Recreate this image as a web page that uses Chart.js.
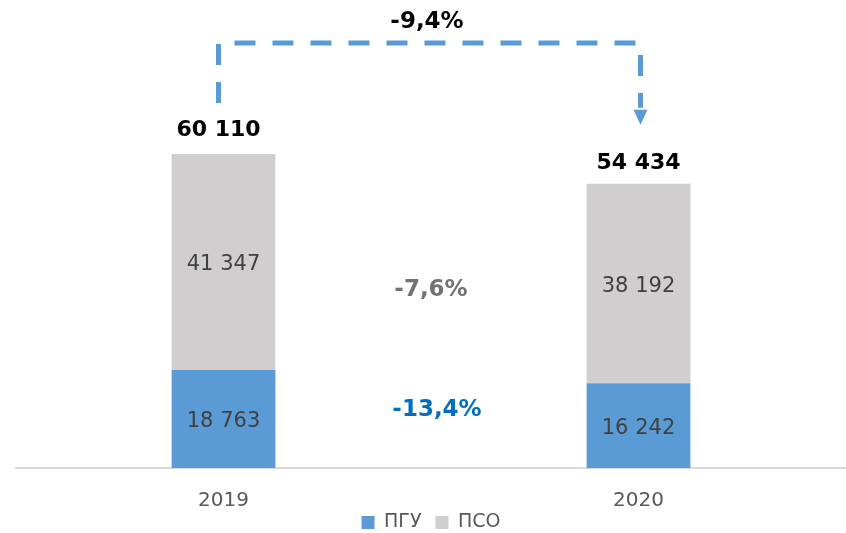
<!DOCTYPE html>
<html>
<head>
<meta charset="utf-8">
<script src="https://cdn.jsdelivr.net/npm/chart.js@4.4.1/dist/chart.umd.min.js"></script>
<style>
  html, body { margin: 0; padding: 0; background: #ffffff; }
  #wrap { width: 846px; height: 533px; position: relative; }
</style>
</head>
<body>
<div id="wrap"><canvas id="chart"></canvas></div>
<script>
  // chart data
  const years = ['2019', '2020'];
  const pguValues = [18763, 16242];
  const psoValues = [41347, 38192];
  const seriesNames = ['ПГУ', 'ПСО'];
  const totalChange = '-9,4%';
  const psoChange = '-7,6%';
  const pguChange = '-13,4%';

  const FONT = '"DejaVu Sans", Verdana, sans-serif';
  const BLUE = '#5B9BD5';
  const GREY = '#D0CECE';

  const fmt = v => String(v).replace(/\B(?=(\d{3})+(?!\d))/g, ' ');

  const labelsPlugin = {
    id: 'labels',
    afterLayout(chart) {
      // pull the legend up closer to the tick labels
      chart.legend.top -= 12;
      chart.legend.bottom -= 12;
    },
    afterDatasetsDraw(chart) {
      const ctx = chart.ctx;
      const x = chart.scales.x, y = chart.scales.y;
      ctx.save();
      ctx.textAlign = 'center';
      ctx.textBaseline = 'middle';

      // values inside segments
      ctx.font = '21px ' + FONT;
      ctx.fillStyle = '#404040';
      chart.data.datasets.forEach((ds, di) => {
        chart.getDatasetMeta(di).data.forEach((bar, i) => {
          const mid = (bar.y + bar.base) / 2;
          ctx.fillText(fmt(ds.data[i]), bar.x, mid + 3);
        });
      });

      // totals above bars
      ctx.font = 'bold 22px ' + FONT;
      ctx.fillStyle = '#000000';
      const totals = years.map((_, i) => pguValues[i] + psoValues[i]);
      totals.forEach((t, i) => {
        const px = x.getPixelForValue(i) - (i === 0 ? 5 : 0);
        ctx.fillText(fmt(t), px, y.getPixelForValue(t) - (i === 0 ? 24 : 20));
      });

      // percentage changes between bars
      const midX = (x.getPixelForValue(0) + x.getPixelForValue(1)) / 2;
      ctx.font = 'bold 23px ' + FONT;
      ctx.fillStyle = '#767171';
      ctx.fillText(psoChange, midX, y.getPixelForValue(34000));
      ctx.fillStyle = '#0070C0';
      ctx.fillText(pguChange, midX + 6, y.getPixelForValue(11100));
      ctx.fillStyle = '#000000';
      ctx.fillText(totalChange, midX - 4, 22);

      // dashed arrow from 2019 total to 2020 total
      const xa = x.getPixelForValue(0) - 5;
      const xb = x.getPixelForValue(1) + 2;
      const yTop = 43;
      const yStart = y.getPixelForValue(totals[0]) - 51;
      const yEnd = y.getPixelForValue(totals[1]) - 76;
      ctx.strokeStyle = BLUE;
      ctx.lineWidth = 5;
      ctx.setLineDash([21, 17]);
      ctx.beginPath();
      ctx.moveTo(xa, yStart);
      ctx.lineTo(xa, yTop);
      ctx.lineTo(xb, yTop);
      ctx.lineTo(xb, yEnd);
      ctx.stroke();
      ctx.setLineDash([]);
      ctx.fillStyle = BLUE;
      ctx.beginPath();
      ctx.moveTo(xb - 7, yEnd + 2);
      ctx.lineTo(xb + 7, yEnd + 2);
      ctx.lineTo(xb, yEnd + 17);
      ctx.closePath();
      ctx.fill();
      ctx.restore();
    }
  };

  new Chart(document.getElementById('chart'), {
    type: 'bar',
    data: {
      labels: years,
      datasets: [
        { label: seriesNames[0], data: pguValues, backgroundColor: BLUE },
        { label: seriesNames[1], data: psoValues, backgroundColor: GREY }
      ]
    },
    options: {
      responsive: true,
      maintainAspectRatio: false,
      animation: false,
      layout: { padding: { left: 16, right: 0, top: 0, bottom: -21 } },
      datasets: { bar: { barPercentage: 0.25, categoryPercentage: 1 } },
      plugins: {
        legend: {
          position: 'bottom',
          labels: {
            font: { family: FONT, size: 19, lineHeight: 1 },
            color: '#595959',
            boxWidth: 13,
            boxHeight: 13,
            padding: 14
          }
        },
        tooltip: { enabled: false }
      },
      scales: {
        x: {
          stacked: true,
          grid: { display: false, tickLength: 23 },
          border: { color: '#D9D9D9', width: 2 },
          ticks: { font: { family: FONT, size: 20, lineHeight: 1 }, color: '#595959', padding: 0 }
        },
        y: {
          stacked: true,
          display: false,
          min: 0,
          max: 89600
        }
      }
    },
    plugins: [labelsPlugin]
  });
</script>
</body>
</html>
